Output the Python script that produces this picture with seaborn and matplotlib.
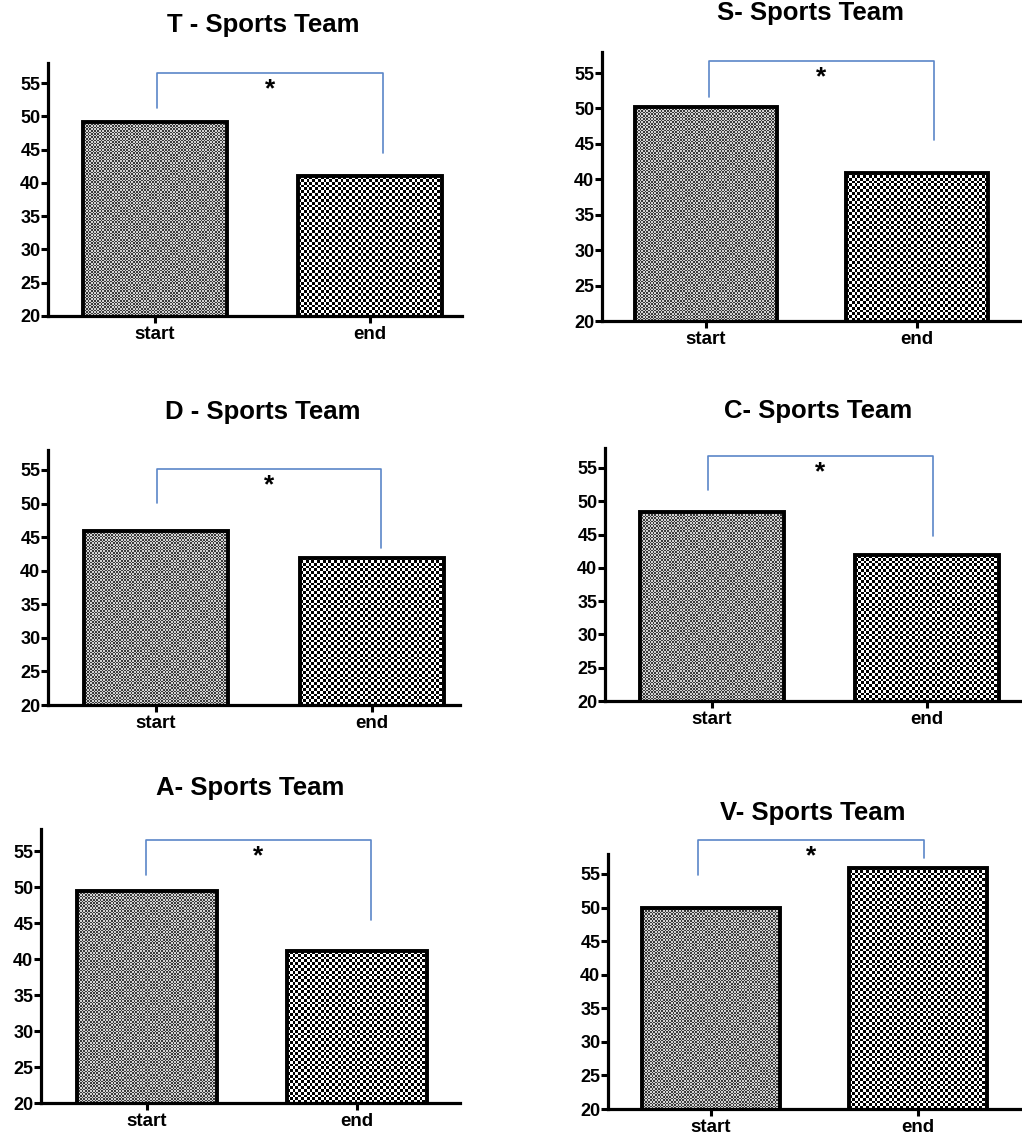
import numpy as np
import pandas as pd
import matplotlib
matplotlib.use('Agg')
import matplotlib.pyplot as plt
from matplotlib.colors import ListedColormap
import seaborn as sns

# values
titles = ['T - Sports Team', 'S- Sports Team', 'D - Sports Team',
          'C- Sports Team', 'A- Sports Team', 'V- Sports Team']
phases = ['start', 'end']
start_vals = [49.1, 50.2, 45.9, 48.4, 49.4, 50.0]
end_vals = [41.0, 40.9, 41.9, 41.9, 41.1, 55.9]

# significance brackets: left foot, top, right foot heights
br_left = [51.2, 51.6, 50.1, 51.7, 51.7, 54.9]
br_top = [56.5, 56.7, 55.1, 56.8, 56.5, 60.1]
br_right = [44.5, 45.6, 43.4, 44.8, 45.4, 57.4]
br_x0 = [0.01, 0.015, 0.005, -0.02, -0.005, -0.063]
br_x1 = [1.06, 1.08, 1.04, 1.03, 1.067, 1.03]

W, H = 1022, 1139
# pixel layout: left, right, y of 20, y of 55, x of start tick, x of end tick
layout = [
    (48, 462, 316, 83, 155, 370),
    (602, 1022, 321, 73, 706, 917),
    (48, 460, 705, 470, 156, 372),
    (605, 1022, 701, 468, 712, 927),
    (41, 460, 1103, 851, 147, 357),
    (608, 1022, 1109, 874, 711, 918),
]
title_pos = [(263, 25), (810, 13), (263, 412), (818, 411), (250, 788), (813, 813)]

sns.set_style('ticks')
plt.rcParams['font.family'] = ['Liberation Sans', 'DejaVu Sans']
plt.rcParams['font.weight'] = 'bold'
plt.rcParams['text.color'] = 'black'
plt.rcParams['xtick.color'] = 'black'
plt.rcParams['ytick.color'] = 'black'

fig = plt.figure(figsize=(W / 100, H / 100), dpi=100)
blue = '#5b86c8'
YMIN, YMAX = 20, 58
bar_w = 0.67


def checker(ax, patch, cell, colors):
    x0, y0 = patch.get_x(), patch.get_y()
    w, h = patch.get_width(), patch.get_height()
    yb = max(y0, YMIN)
    p0 = ax.transData.transform((x0, yb))
    p1 = ax.transData.transform((x0 + w, y0 + h))
    nx = max(int(abs(p1[0] - p0[0]) / cell), 1)
    ny = max(int(abs(p1[1] - p0[1]) / cell), 1)
    ii, jj = np.indices((ny, nx))
    arr = (ii + jj) % 2
    im = ax.imshow(arr, cmap=ListedColormap(colors), extent=(x0, x0 + w, yb, y0 + h),
                   aspect='auto', interpolation='nearest', zorder=1, origin='lower')
    im.set_clip_path(patch)


for i, (left, right, y20, y55, t0, t1) in enumerate(layout):
    ppu = (y20 - y55) / 35.0
    ytop = y20 - (YMAX - YMIN) * ppu
    ax = fig.add_axes([left / W, 1 - y20 / H, (right - left) / W, (y20 - ytop) / H])
    df = pd.DataFrame({'phase': phases, 'value': [start_vals[i], end_vals[i]]})
    sns.barplot(data=df, x='phase', y='value', ax=ax, color='white', width=bar_w,
                edgecolor='black', linewidth=2.8, saturation=1)
    ax.set_ylim(YMIN, YMAX)
    ax.set_xlim((left - t0) / (t1 - t0), (right - t0) / (t1 - t0))
    ax.set_yticks([20, 25, 30, 35, 40, 45, 50, 55])
    ax.set_xlabel('')
    ax.set_ylabel('')
    for s in ['top', 'right']:
        ax.spines[s].set_visible(False)
    for s in ['left', 'bottom']:
        ax.spines[s].set_linewidth(2.3)
        ax.spines[s].set_color('black')
    ax.tick_params(axis='both', width=2.2, length=5, color='black', labelsize=13,
                   labelcolor='black', pad=0.5)
    for lab in ax.get_xticklabels() + ax.get_yticklabels():
        lab.set_fontweight('bold')
    ax.tick_params(axis='x', pad=2, labelsize=13.5)

    patches = ax.patches
    fig.canvas.draw()
    checker(ax, patches[0], 1.6, ['#3a3a3a', '#d2d2d2'])
    checker(ax, patches[1], 2.8, ['#000000', '#ffffff'])
    for p in patches:
        p.set_facecolor('none')
        p.set_zorder(2)

    # significance bracket
    ax.plot([br_x0[i], br_x0[i], br_x1[i], br_x1[i]],
            [br_left[i], br_top[i], br_top[i], br_right[i]],
            color=blue, lw=1.2, clip_on=False, zorder=3)
    ax.annotate('*', xy=((br_x0[i] + br_x1[i]) / 2, br_top[i]), xytext=(0, -3),
                textcoords='offset points', ha='center', va='top', fontsize=19,
                fontweight='bold', annotation_clip=False)

    tx, ty = title_pos[i]
    fig.text(tx / W, 1 - ty / H, titles[i], ha='center', va='center',
             fontsize=18.5, fontweight='bold')

fig.savefig('out.png', dpi=100)
